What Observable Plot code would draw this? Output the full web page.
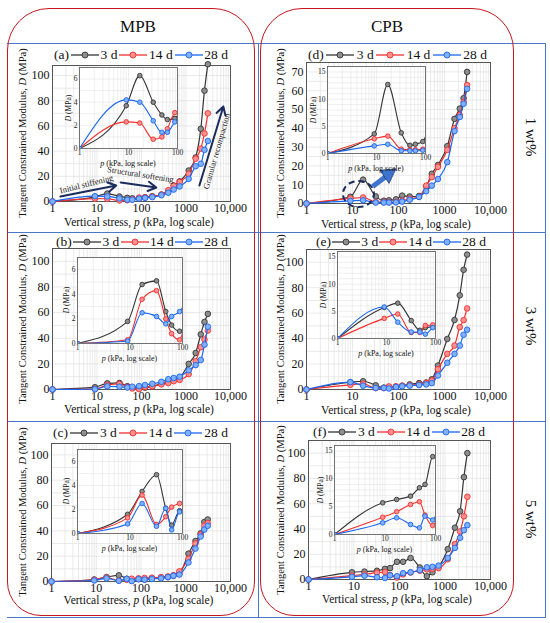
<!DOCTYPE html>
<html><head><meta charset="utf-8">
<script src="https://cdn.jsdelivr.net/npm/d3@7"></script>
<script src="https://cdn.jsdelivr.net/npm/@observablehq/plot@0.6"></script>
<style>
body{margin:0;background:#fff;}
#root{position:relative;width:550px;height:623px;overflow:hidden;font-family:"Liberation Serif","Times New Roman",serif;color:#111;}
.abs{position:absolute;}
.rot{position:absolute;white-space:nowrap;transform:translate(-50%,-50%) rotate(-90deg);}
.rotcw{position:absolute;white-space:nowrap;transform:translate(-50%,-50%) rotate(90deg);}
.ctr{position:absolute;white-space:nowrap;transform:translate(-50%,-50%);}
svg{overflow:visible;}
</style></head><body><div id="root"></div>
<script>
// ---------- data ----------
const stress = [1, 9, 17, 32, 48, 62, 88, 120, 175, 280, 400, 530, 720, 1150, 1650, 2150, 2600, 3100];
const ages = ["3 d", "14 d", "28 d"];
const xTicks = [1, 10, 100, 1000, 10000];
const insetXTicks = [1, 10, 100];
const mainYTicks = [0, 20, 40, 60, 80, 100];
const mainYTicksD = [0, 10, 20, 30, 40, 50, 60, 70];
const insetYTicksSmall = [0, 2, 4, 6];
const insetYTicksLarge = [0, 5, 10, 15];

// MPB 1 wt%
const a3  = [0, 3.7, 6.3, 4.0, 2.9, 2.5, 2.6, 3.4, 4.2, 5.5, 8, 12.7, 16, 24.6, 35, 57.7, 88, 109];
const a14 = [0, 2.3, 2.2, 0.8, 1.0, 1.7, 3.1, 3.3, 4, 5.5, 9, 12.5, 15.5, 22, 34, 42, 54, 70];
const a28 = [0, 4.2, 4.0, 2.4, 1.4, 1.4, 2.3, 2.8, 3.5, 5, 7, 9.5, 12, 18, 28, 30, 41, 48];
// MPB 3 wt%
const b3  = [0, 1.8, 4.8, 5.1, 2.6, 1.5, 1.0, 1.5, 2.5, 4.5, 6, 8, 9.5, 20, 28.5, 43, 52.7, 59];
const b14 = [0, 0.3, 3.6, 4.3, 2.0, 0.8, 0.3, 2.0, 2.5, 4, 5, 6.5, 7.5, 12, 22, 33, 39, 46];
const b28 = [0, 0.2, 2.5, 2.2, 1.6, 2.2, 2.6, 3.5, 4.5, 6, 8, 9, 10, 15, 19, 23, 35, 49];
// MPB 5 wt%
const c3  = [0, 1.6, 3.5, 4.9, 2.1, 0.7, 1.9, 1.5, 2.5, 3, 3.5, 4.5, 6, 22, 32, 38, 47, 49];
const c14 = [0, 1.3, 3.2, 0.75, 1.4, 2.2, 2.5, 2.8, 3, 3.5, 4, 5, 8, 18, 30, 37, 44, 46];
const c28 = [0, 0.8, 2.5, 0.6, 2.1, 0.3, 1.8, 1.5, 2, 2.5, 3.5, 4.5, 5.5, 15, 26, 35.5, 41, 44];
// CPB 1 wt%
const d3v = [0, 3.6, 12.7, 3.8, 1.5, 1.7, 2.2, 4.2, 3.7, 4.0, 9, 15.8, 20.5, 30.5, 45, 50.5, 56, 70];
const d14 = [0, 2.7, 3.2, 0.8, 0.7, 0.7, 0.8, 1.5, 2.5, 3.5, 9.5, 14, 19.5, 28.5, 40, 47, 54, 63];
const d28 = [0, 1.4, 1.7, 0.5, 0.5, 0.5, 0.6, 1.0, 2.0, 3.5, 6.5, 9.5, 13, 22, 38.5, 46, 53, 61];
// CPB 3 wt%
const e3  = [0, 5.7, 6.5, 3.3, 1.5, 2.0, 2.2, 3, 4, 5, 5.5, 8, 18.8, 39.7, 54.6, 74, 94, 106];
const e14 = [0, 3.7, 4.5, 1.1, 1.1, 2.4, 2.5, 3, 3.5, 4, 5, 7, 16, 28, 34.5, 49, 54.5, 63.7];
const e28 = [0, 5.8, 3.0, 1.2, 1.2, 0.8, 2.0, 2.5, 3, 3.5, 4, 5, 11, 21, 28, 34.5, 43, 47];
// CPB 5 wt%
const f3  = [0, 5.7, 6.3, 6.9, 8.4, 9, 14, 14, 17, 9.5, 2.6, 5.7, 10, 24, 41, 54, 81, 100];
const f14 = [0, 3.1, 4.1, 5.4, 5.9, 3.5, 1.6, 4, 5.5, 7, 8, 8.5, 9, 16, 28, 38, 50, 65.5];
const f28 = [0, 2.1, 3.0, 1.8, 1.2, 3.3, 2.6, 5, 5.7, 7.5, 9.6, 10, 11, 17, 25, 33, 39, 43];

const lineColors = ["#353535", "#f2302e", "#1a66f0"];
const dotFills = ["#8e8e8e", "#ff9090", "#80b0ff"];
const serif = "'Liberation Serif','Times New Roman',serif";
const navy = "#1b2b5e";

const root = document.getElementById("root");
function el(tag, cls, css, html) {
  const e = document.createElement(tag);
  if (cls) e.className = cls;
  Object.assign(e.style, css || {});
  if (html != null) e.innerHTML = html;
  root.appendChild(e);
  return e;
}

// ---------- frames (decoration) ----------
const blue = "#4a78c8", red = "#c8161d";
function hline(x0, x1, y) { el("div", "abs", {left: x0+"px", top: y+"px", width: (x1-x0)+"px", height: "0", borderTop: "1.3px solid "+blue}); }
function vline(x, y0, y1) { el("div", "abs", {left: x+"px", top: y0+"px", height: (y1-y0)+"px", width: "0", borderLeft: "1.3px solid "+blue}); }
[43, 232, 421, 617].forEach(y => hline(7, 545, y));
vline(545, 43, 618); vline(258, 43, 618);
el("div", "abs", {left: "7px", top: "8px", width: "248px", height: "608px", border: "1.5px solid "+red, borderRadius: "42px 42px 34px 34px", boxSizing: "border-box"});
el("div", "abs", {left: "260px", top: "8px", width: "254px", height: "608px", border: "1.5px solid "+red, borderRadius: "42px 42px 34px 34px", boxSizing: "border-box"});
el("div", "ctr", {left: "138px", top: "27px", fontSize: "17px"}, "MPB");
el("div", "ctr", {left: "387px", top: "27px", fontSize: "17px"}, "CPB");
el("div", "rotcw", {left: "530px", top: "137px", fontSize: "15px"}, "1 wt%");
el("div", "rotcw", {left: "530px", top: "326px", fontSize: "15px"}, "3 wt%");
el("div", "rotcw", {left: "530px", top: "519px", fontSize: "15px"}, "5 wt%");

// ---------- helpers ----------
function rows(vals) { return stress.map((p, i) => ({p, D: vals[i]})); }
function seriesMarks(set, r, sw, clip) {
  const m = [];
  set.forEach((vals, k) => {
    const data = rows(vals);
    m.push(Plot.line(data, {x: "p", y: "D", stroke: lineColors[k], strokeWidth: sw, curve: "monotone-x", clip}));
    m.push(Plot.dot(data, {x: "p", y: "D", r, fill: dotFills[k], stroke: lineColors[k], strokeWidth: 0.9, clip}));
  });
  return m;
}
const mainMinor = [];
for (let k = 0; k < 4; k++) for (let m = 1; m <= 9; m++) mainMinor.push(m * Math.pow(10, k));
mainMinor.push(10000);
const insetMinor = [];
for (let k = 0; k < 2; k++) for (let m = 1; m <= 9; m++) insetMinor.push(m * Math.pow(10, k));
insetMinor.push(100);
const fmtX = d => d === 10000 ? "10,000" : String(d);

function place(svg, left, top) {
  svg.style.position = "absolute"; svg.style.left = left + "px"; svg.style.top = top + "px";
  root.appendChild(svg);
}

function mainChart(P) {
  const f = P.frame, mL = 34, mR = 6, mT = 4, mB = 20;
  const w = f.x1 - f.x0, h = f.y1 - f.y0;
  const marks = [
    Plot.ruleX(mainMinor, {stroke: "#dcdcdc", strokeWidth: 0.6}),
    Plot.ruleY(d3.range(0, P.ymax, P.ymax < 80 ? 5 : 10), {stroke: "#dcdcdc", strokeWidth: 0.6}),
    Plot.frame({stroke: "#555", strokeWidth: 1}),
    ...seriesMarks(P.v, 2.8, 1.2, false),
    ...(P.extra || [])
  ];
  const svg = Plot.plot({
    width: w + mL + mR, height: h + mT + mB,
    marginLeft: mL, marginRight: mR, marginTop: mT, marginBottom: mB,
    style: {fontFamily: serif, fontSize: "12px", color: "#111", background: "transparent", overflow: "visible"},
    x: {type: "log", domain: [1, 10000], ticks: xTicks, tickFormat: fmtX, tickSize: 0, tickPadding: 2, label: null},
    y: {domain: [0, P.ymax], ticks: P.yTicks, tickFormat: d => String(d), tickSize: 0, tickPadding: 3, label: null},
    marks
  });
  place(svg, f.x0 - mL, f.y0 - mT);
}

function insetChart(P) {
  const f = P.inset, mL = 12, mR = 4, mT = 3, mB = 10;
  const w = f.x1 - f.x0, h = f.y1 - f.y0;
  const svg = Plot.plot({
    width: w + mL + mR, height: h + mT + mB,
    marginLeft: mL, marginRight: mR, marginTop: mT, marginBottom: mB,
    style: {fontFamily: serif, fontSize: "7.5px", color: "#222", background: "transparent", overflow: "visible"},
    x: {type: "log", domain: [1, 100], ticks: insetXTicks, tickFormat: d => String(d), tickSize: 0, tickPadding: 1.5, label: null},
    y: {domain: [0, f.ymax], ticks: f.ticks, tickFormat: d => String(d), tickSize: 0, tickPadding: 2, label: null},
    marks: [
      Plot.frame({fill: "white", stroke: "none"}),
      Plot.ruleX(insetMinor, {stroke: "#dedede", strokeWidth: 0.5}),
      Plot.ruleY(d3.range(0, f.ymax, 1), {stroke: "#dedede", strokeWidth: 0.5}),
      ...seriesMarks(P.v, 2.3, 1.1, true),
      Plot.frame({stroke: "#666", strokeWidth: 0.9})
    ]
  });
  place(svg, f.x0 - mL, f.y0 - mT);
  const off = f.ymax > 10 ? 14 : 11;
  el("div", "rot", {left: (f.x0 - off) + "px", top: ((f.y0 + f.y1) / 2) + "px", fontSize: "7.5px"}, "<i>D</i> (MPa)");
  el("div", "ctr", {left: ((f.x0 + f.x1) / 2) + "px", top: (f.y1 + 15) + "px", fontSize: "8px"}, "<i>p</i> (kPa, log scale)");
}

function legend(P) {
  const sw = (k) => `<svg width="28" height="10" style="overflow:visible"><line x1="0" y1="5" x2="28" y2="5" stroke="${lineColors[k]}" stroke-width="1.3"/><circle cx="14" cy="5" r="3" fill="${dotFills[k]}" stroke="${lineColors[k]}" stroke-width="0.9"/></svg>`;
  const html = `<span>${P.id}</span>` + ages.map((a, k) => sw(k) + `<span>${a}</span>`).join("");
  el("div", "abs", {left: P.legend.x + "px", top: (P.legend.y - 8) + "px", width: P.legend.w + "px", height: "16px",
    display: "flex", alignItems: "center", justifyContent: "space-between", fontSize: "13.5px", whiteSpace: "nowrap"}, html);
}

function labels(P) {
  const f = P.frame;
  el("div", "rot", {left: P.ylabX + "px", top: ((f.y0 + f.y1) / 2) + "px", fontSize: "10.5px"}, "Tangent Constrained Modulus, <i>D</i> (MPa)");
  el("div", "ctr", {left: ((f.x0 + f.x1) / 2 - 2) + "px", top: P.xlabY + "px", fontSize: "11.5px"}, "Vertical stress, <i>p</i> (kPa, log scale)");
}

// annotations for panel (a)
const annoA = [
  Plot.arrow([{x1: 1.5, y1: 4.0, x2: 27, y2: 12.7}], {x1: "x1", y1: "y1", x2: "x2", y2: "y2", stroke: navy, strokeWidth: 2, headLength: 7}),
  Plot.arrow([{x1: 34, y1: 15.1, x2: 215, y2: 11.1}], {x1: "x1", y1: "y1", x2: "x2", y2: "y2", stroke: navy, strokeWidth: 2, headLength: 7}),
  Plot.arrow([{x1: 2000, y1: 12.7, x2: 6900, y2: 75.4}], {x1: "x1", y1: "y1", x2: "x2", y2: "y2", stroke: navy, strokeWidth: 2, headLength: 7}),
  Plot.text(["Initial stiffening"], {x: 5.8, y: 13.8, text: d => d, rotate: -14, fontSize: 8.5, fill: "#222"}),
  Plot.text(["Structural softening"], {x: 95, y: 21.4, text: d => d, rotate: 9, fontSize: 8.5, fill: "#222"}),
  Plot.text(["Granular recompaction"], {x: 4900, y: 40, text: d => d, rotate: -74, fontSize: 8.5, fill: "#222"})
];
// annotation for panel (d)
const annoD = [
  Plot.link([{x1: 27.5, y1: 9.0, x2: 55, y2: 14.6}], {x1: "x1", y1: "y1", x2: "x2", y2: "y2", stroke: "#3f74cc", strokeWidth: 5}),
  Plot.dot([{x: 60, y: 15.6}], {x: "x", y: "y", symbol: "triangle", r: 6, fill: "#3f74cc", stroke: navy, strokeWidth: 0.6, rotate: 55})
];

const panels = [
  {id: "(a)", v: [a3, a14, a28], frame: {x0: 52, x1: 230, y0: 65, y1: 201}, ymax: 108, yTicks: mainYTicks,
   inset: {x0: 79, x1: 177, y0: 67, y1: 148, ymax: 7, ticks: insetYTicksSmall}, legend: {x: 54, y: 55, w: 174}, ylabX: 22, xlabY: 222, extra: annoA},
  {id: "(b)", v: [b3, b14, b28], frame: {x0: 52, x1: 230, y0: 248, y1: 389}, ymax: 110, yTicks: mainYTicks,
   inset: {x0: 77, x1: 182, y0: 257, y1: 343, ymax: 7, ticks: insetYTicksSmall}, legend: {x: 56, y: 242, w: 172}, ylabX: 22, xlabY: 409},
  {id: "(c)", v: [c3, c14, c28], frame: {x0: 51, x1: 230, y0: 443, y1: 581}, ymax: 109, yTicks: mainYTicks,
   inset: {x0: 77, x1: 182, y0: 449, y1: 533, ymax: 7, ticks: insetYTicksSmall}, legend: {x: 53, y: 433, w: 175}, ylabX: 22, xlabY: 600},
  {id: "(d)", v: [d3v, d14, d28], frame: {x0: 306, x1: 490, y0: 62, y1: 203}, ymax: 75, yTicks: mainYTicksD,
   inset: {x0: 327, x1: 425, y0: 66, y1: 153, ymax: 16, ticks: insetYTicksLarge}, legend: {x: 308, y: 55, w: 179}, ylabX: 280, xlabY: 224, extra: annoD},
  {id: "(e)", v: [e3, e14, e28], frame: {x0: 306, x1: 490, y0: 249, y1: 389}, ymax: 110, yTicks: mainYTicks,
   inset: {x0: 337, x1: 435, y0: 251, y1: 338, ymax: 16, ticks: insetYTicksLarge}, legend: {x: 316, y: 242, w: 170}, ylabX: 280, xlabY: 410},
  {id: "(f)", v: [f3, f14, f28], frame: {x0: 308, x1: 490, y0: 440, y1: 579}, ymax: 110, yTicks: mainYTicks,
   inset: {x0: 334, x1: 435, y0: 445, y1: 534, ymax: 16, ticks: insetYTicksLarge}, legend: {x: 313, y: 432, w: 172}, ylabX: 280, xlabY: 599}
];

panels.forEach(P => { mainChart(P); insetChart(P); legend(P); labels(P); });

// dashed ellipse highlighting the early peak in (d)
el("div", "abs", {left: "342px", top: "180px", width: "33px", height: "28px", border: "2px dashed " + navy, borderRadius: "50%", boxSizing: "border-box"});
</script></body></html>
